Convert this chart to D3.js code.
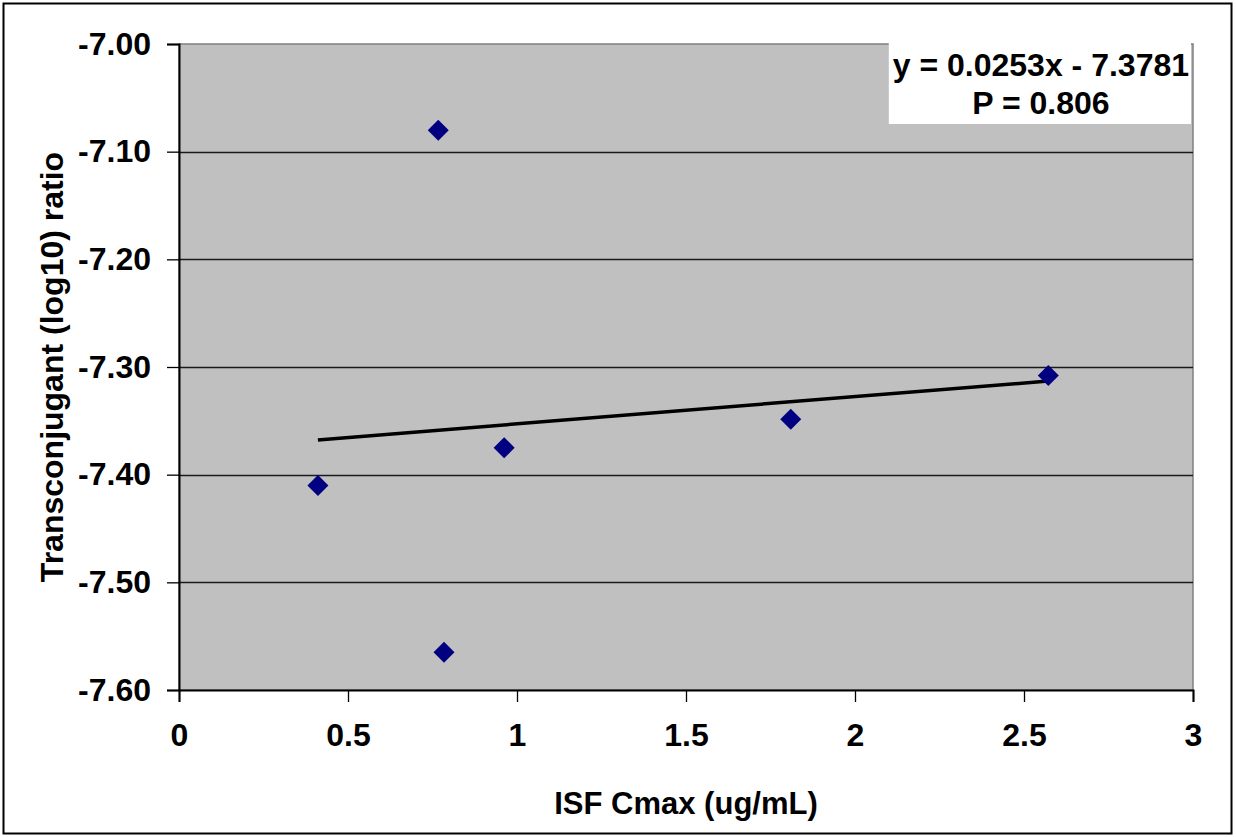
<!DOCTYPE html>
<html lang="en">
  <head>
    <meta charset="UTF-8" />
    <title>Transconjugant ratio vs ISF Cmax</title>
    <script src="https://d3js.org/d3.v7.min.js"></script>
    <style>
      body { margin: 0; background: #fff; }
      text { font-family: "Liberation Sans", Arial, sans-serif; font-weight: bold; }
    </style>
  </head>
  <body>
    <div id="chart"></div>

    <script>
      // data
      const cmax = [0.411, 0.767, 0.784, 0.962, 1.81, 2.572];
      const ratio = [-7.41, -7.08, -7.565, -7.375, -7.3485, -7.308];
      const xTicks = [0, 0.5, 1, 1.5, 2, 2.5, 3];
      const yTicks = [-7.0, -7.1, -7.2, -7.3, -7.4, -7.5, -7.6];
      const slope = 0.0253, intercept = -7.3781;
      const eqLines = ["y = 0.0253x - 7.3781", "P = 0.806"];

      const W = 1236, H = 837;
      const margin = { top: 44, right: 43, bottom: 147, left: 179 };
      const width = W - margin.left - margin.right,
        height = H - margin.top - margin.bottom;

      const svg = d3
        .select("#chart")
        .append("svg")
        .attr("width", W)
        .attr("height", H);

      // outer frame
      svg.append("rect")
        .attr("x", 3.5).attr("y", 3.5)
        .attr("width", 1228).attr("height", 830)
        .attr("fill", "none").attr("stroke", "#000").attr("stroke-width", 2);

      const g = svg.append("g")
        .attr("transform", `translate(${margin.left},${margin.top})`);

      const x = d3.scaleLinear().domain([0, 3]).range([0, width]);
      const y = d3.scaleLinear().domain([-7.6, -7.0]).range([height, 0]);

      // plot area
      g.append("rect")
        .attr("width", width).attr("height", height)
        .attr("fill", "#c0c0c0")
        .attr("stroke", "#808080").attr("stroke-width", 1.5);

      // gridlines
      g.append("g")
        .selectAll("line")
        .data(yTicks.slice(1, -1))
        .join("line")
        .attr("x1", 0).attr("x2", width)
        .attr("y1", (d) => Math.round(y(d)) + 0.5)
        .attr("y2", (d) => Math.round(y(d)) + 0.5)
        .attr("stroke", "#1a1a1a").attr("stroke-width", 1.3);

      // axes
      const xAxis = g.append("g")
        .attr("transform", `translate(0,${height})`)
        .call(d3.axisBottom(x).tickValues(xTicks).tickSizeOuter(0).tickSize(12).tickPadding(21)
          .tickFormat((d) => String(d)));
      const yAxis = g.append("g")
        .call(d3.axisLeft(y).tickValues(yTicks).tickSizeOuter(0).tickSize(12).tickPadding(16)
          .tickFormat((d) => d.toFixed(2)));

      [xAxis, yAxis].forEach((a) => {
        a.select(".domain").attr("stroke", "#000").attr("stroke-width", 2);
        a.selectAll(".tick line").attr("stroke", "#000").attr("stroke-width", 1.3);
        a.selectAll(".tick text")
          .attr("fill", "#000")
          .style("font-size", "32px")
          .style("font-family", '"Liberation Sans", Arial, sans-serif')
          .style("font-weight", "bold");
      });

      // trendline
      const xr = d3.extent(cmax);
      g.append("line")
        .attr("x1", x(xr[0])).attr("y1", y(slope * xr[0] + intercept))
        .attr("x2", x(xr[1])).attr("y2", y(slope * xr[1] + intercept))
        .attr("stroke", "#000").attr("stroke-width", 3.5);

      // points
      g.append("g")
        .selectAll("path")
        .data(cmax.map((v, i) => [v, ratio[i]]))
        .join("path")
        .attr("d", "M0,-10.5L10.5,0L0,10.5L-10.5,0Z")
        .attr("transform", (d) => `translate(${x(d[0])},${y(d[1])})`)
        .attr("fill", "#000080");

      // equation box
      const bx = x(2.1), bw = width - x(2.1) - 2;
      g.append("rect")
        .attr("x", bx).attr("y", -1)
        .attr("width", bw).attr("height", 81)
        .attr("fill", "#fff");
      g.append("g")
        .selectAll("text")
        .data(eqLines)
        .join("text")
        .attr("x", bx + bw / 2 + 1)
        .attr("y", (d, i) => 32 + i * 38)
        .attr("text-anchor", "middle")
        .style("font-size", "32px")
        .text((d) => d);

      // axis titles
      svg.append("text")
        .attr("x", margin.left + width / 2)
        .attr("y", 814)
        .attr("text-anchor", "middle")
        .style("font-size", "31px")
        .text("ISF Cmax (ug/mL)");

      svg.append("text")
        .attr("transform", `translate(63,${margin.top + height / 2}) rotate(-90)`)
        .attr("text-anchor", "middle")
        .style("font-size", "32px")
        .text("Transconjugant (log10) ratio");
    </script>
  </body>
</html>
